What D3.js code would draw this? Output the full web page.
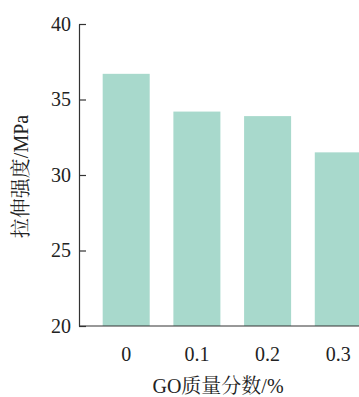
<!DOCTYPE html>
<html><head><meta charset="utf-8">
<script src="https://cdn.jsdelivr.net/npm/d3@7"></script>
<style>body{margin:0;background:#fff;}svg{display:block;}</style>
</head><body>
<svg id="c" width="359" height="397"></svg>
<script>
const categories = ["0", "0.1", "0.2", "0.3"];
const values = [36.7, 34.2, 33.9, 31.5];
const yTicks = [20, 25, 30, 35, 40];
const xTitle = "GO质量分数/%";
const yTitle = "拉伸强度/MPa";

const svg = d3.select("#c");
const W = 359, H = 397;
const x0 = 79, yTop = 24, yBot = 326;
const step = 70.7, p = 0.335;
const x = d3.scaleBand().domain(categories)
  .range([x0, x0 + step * (categories.length - p + 2 * p)])
  .paddingInner(p).paddingOuter(p);
const y = d3.scaleLinear().domain([20, 40]).range([yBot, yTop]);
const font = "'Liberation Serif','Times New Roman',serif";
const cjk = "'Liberation Serif','Noto Serif CJK SC','Noto Sans CJK SC',serif";

svg.append("g").selectAll("rect").data(values).join("rect")
  .attr("x", (d, i) => x(categories[i]))
  .attr("width", x.bandwidth())
  .attr("y", d => y(d))
  .attr("height", d => y(20) - y(d))
  .attr("fill", "#a8d9cc");

// y axis
const ya = svg.append("g").attr("transform", `translate(${x0},0)`)
  .call(d3.axisLeft(y).tickValues(yTicks).tickSizeInner(-7).tickSizeOuter(0).tickPadding(8));
ya.attr("font-family", null).attr("font-size", null);
ya.select(".domain").attr("stroke", "#333").attr("stroke-width", 1.2);
ya.selectAll(".tick line").attr("stroke", "#333").attr("stroke-width", 1.2);
ya.selectAll("text").style("font-family", font).style("font-size", "20px").attr("fill", "#222");

// x axis
const xa = svg.append("g").attr("transform", `translate(0,${yBot})`)
  .call(d3.axisBottom(x).tickSize(0).tickPadding(21));
xa.attr("font-family", null).attr("font-size", null);
xa.select(".domain").attr("d", `M${x0},0H${W}`).attr("stroke", "#333").attr("stroke-width", 1.2);
xa.selectAll("text").style("font-family", font).style("font-size", "20px").attr("fill", "#222");

svg.append("text").attr("x", 218).attr("y", 393).attr("text-anchor", "middle")
  .style("font-family", cjk).style("font-size", "20px").attr("fill", "#222").text(xTitle);
svg.append("text").attr("transform", `translate(21,176.5) rotate(-90)`)
  .attr("text-anchor", "middle").attr("dominant-baseline", "central")
  .style("font-family", cjk).style("font-size", "20px").attr("fill", "#222").text(yTitle);
</script>
</body></html>
